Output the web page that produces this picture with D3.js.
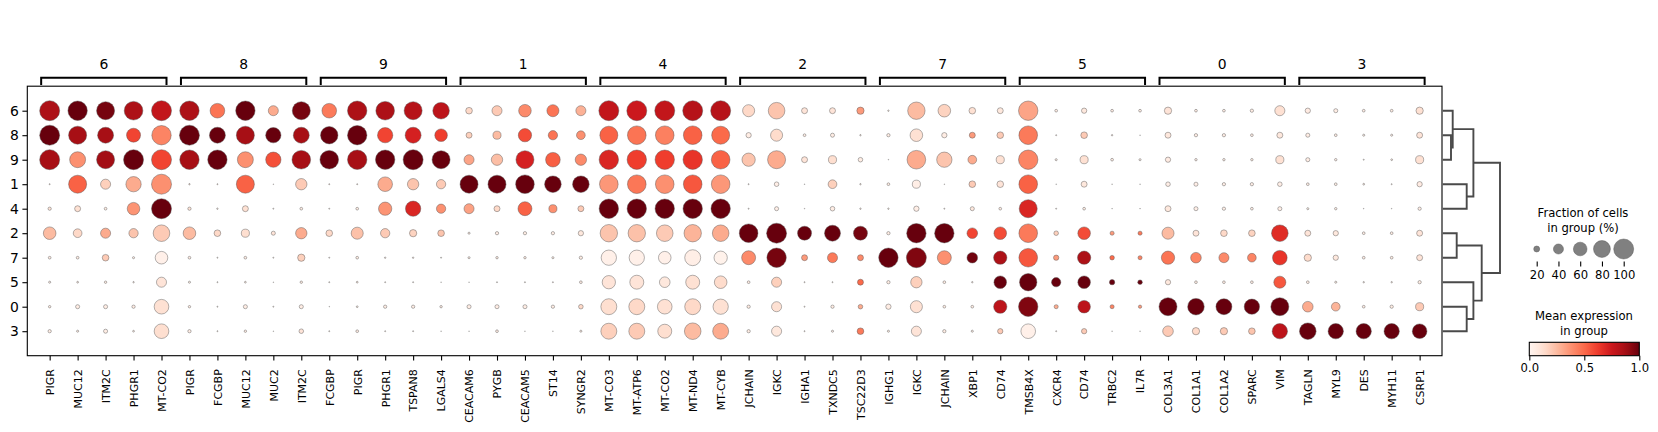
<!DOCTYPE html>
<html><head><meta charset="utf-8">
<script src="https://cdn.jsdelivr.net/npm/d3@7"></script>
<style>body{margin:0;background:#fff;} text{font-family:"DejaVu Sans",sans-serif;fill:#000;}</style>
</head><body>
<svg id="chart" width="1658" height="432"></svg>
<script>
// ---------- DATA ----------
const groups = ["6","8","9","1","4","2","7","5","0","3"];
const groupGenes = [
  ["PIGR","MUC12","ITM2C","PHGR1","MT-CO2"],
  ["PIGR","FCGBP","MUC12","MUC2","ITM2C"],
  ["FCGBP","PIGR","PHGR1","TSPAN8","LGALS4"],
  ["CEACAM6","PYGB","CEACAM5","ST14","SYNGR2"],
  ["MT-CO3","MT-ATP6","MT-CO2","MT-ND4","MT-CYB"],
  ["JCHAIN","IGKC","IGHA1","TXNDC5","TSC22D3"],
  ["IGHG1","IGKC","JCHAIN","XBP1","CD74"],
  ["TMSB4X","CXCR4","CD74","TRBC2","IL7R"],
  ["COL3A1","COL1A1","COL1A2","SPARC","VIM"],
  ["TAGLN","MYL9","DES","MYH11","CSRP1"]
];
// fraction of cells in group (%) per row (group) over the 50 genes
const frac6 = [100,96,87,91,100, 96,66,96,40,87, 66,96,91,87,78, 23,40,54,51,40, 100,100,100,100,100, 51,78,20,20,26, 3,83,54,23,20, 96,7,17,7,7, 26,7,7,9,40, 17,12,7,7,26];
const frac8 = [100,87,74,62,96, 100,74,87,70,74, 83,96,70,74,54, 20,30,58,36,33, 87,91,91,91,87, 17,51,7,12,3, 9,54,17,20,23, 91,2,23,3,1, 20,9,9,7,20, 12,7,5,5,20];
const frac9 = [100,74,87,100,100, 96,96,74,70,91, 91,96,96,100,87, 40,47,87,66,47, 96,96,96,96,91, 58,87,20,30,14, 1,91,70,33,30, 96,5,30,7,5, 17,6,6,6,30, 12,6,2,4,30];
const frac1 = [2,87,40,70,100, 3,2,87,1,47, 2,2,66,47,36, 87,87,91,78,78, 91,91,91,91,91, 2,14,1,33,3, 7,30,1,23,23, 91,1,20,1,1, 14,12,9,9,14, 7,7,4,2,17];
const frac4 = [9,20,7,54,100, 9,3,20,2,7, 2,7,58,70,36, 40,20,62,30,20, 96,96,96,96,96, 2,12,1,14,3, 3,17,2,12,7, 87,2,7,1,1, 20,12,9,7,12, 5,6,1,1,9];
const frac2 = [54,33,40,36,78, 54,23,30,12,47, 23,51,36,26,23, 5,9,9,9,17, 83,83,78,83,78, 91,100,62,74,62, 9,96,96,43,54, 91,14,54,12,12, 51,20,23,23,78, 20,17,7,7,20];
const frac7 = [7,7,23,5,54, 7,2,7,2,26, 2,7,3,3,2, 5,6,6,5,9, 70,70,54,74,58, 62,96,20,40,20, 96,100,62,43,58, 91,17,58,14,12, 58,43,40,33,66, 26,17,7,7,20];
const frac5 = [5,4,6,3,40, 5,2,4,1,6, 2,4,2,2,1, 1,2,2,2,7, 58,62,43,62,54, 7,40,2,2,20, 9,47,7,3,54, 83,36,54,17,14, 17,7,7,7,51, 7,5,3,3,9];
const frac0 = [6,12,12,9,66, 6,2,12,2,12, 1,4,9,9,6, 12,12,12,9,14, 74,74,66,74,70, 9,40,2,9,14, 17,51,7,7,58, 96,12,54,12,9, 87,78,74,70,87, 43,33,7,9,30];
const frac3 = [9,5,12,4,66, 9,2,6,1,14, 2,7,2,2,1, 1,7,1,1,5, 74,74,62,78,74, 9,40,2,5,23, 5,40,9,5,17, 66,2,17,1,1, 43,26,26,23,70, 78,70,70,70,66];
// mean expression in group (scaled 0..1)
const expr6 = [.85,1,.97,.85,.78, .85,.47,1,.3,.97, .45,.85,.85,.82,.8, .15,.2,.4,.47,.28, .78,.75,.78,.82,.82, .15,.22,.1,.1,.35, .05,.25,.17,.12,.08, .32,.05,.08,.05,.05, .1,.05,.05,.05,.12, .06,.05,.05,.05,.12];
const expr8 = [1,.87,.87,.6,.42, 1,1,.87,1,.87, 1,1,.6,.72,.62, .18,.25,.58,.47,.38, .52,.47,.43,.52,.5, .05,.14,.05,.05,.05, .05,.12,.05,.35,.2, .45,.05,.2,.05,.05, .08,.05,.05,.05,.08, .05,.05,.05,.05,.1];
const expr9 = [.87,.38,.88,1,.6, .87,1,.38,.57,.87, 1,.87,1,1,1, .32,.24,.72,.53,.4, .7,.62,.62,.65,.52, .22,.3,.1,.13,.05, .05,.3,.22,.3,.12, .42,.05,.12,.05,.05, .06,.05,.05,.05,.12, .05,.05,.05,.05,.12];
const expr1 = [.1,.52,.18,.3,.38, .1,.1,.52,.1,.2, .1,.1,.3,.22,.2, 1,1,1,1,1, .36,.46,.38,.55,.36, .05,.04,.05,.18,.05, .05,.04,.05,.2,.1, .52,.05,.08,.05,.05, .04,.04,.04,.04,.04, .04,.04,.04,.04,.06];
const expr4 = [.1,.12,.05,.37,1, .1,.05,.12,.05,.05, .05,.05,.37,.7,.38, .33,.15,.52,.38,.2, 1,1,1,1,1, .05,.04,.05,.05,.05, .05,.04,.05,.08,.05, .7,.05,.05,.05,.05, .08,.04,.04,.04,.04, .04,.04,.04,.04,.04];
const expr2 = [.25,.15,.3,.22,.2, .25,.15,.13,.1,.3, .15,.23,.2,.17,.22, .05,.05,.05,.05,.08, .22,.23,.2,.27,.3, 1,1,1,1,.97, .05,1,1,.6,.58, .45,.18,.58,.35,.45, .25,.1,.15,.17,.68, .1,.08,.05,.05,.1];
const expr7 = [.05,.05,.2,.05,.03, .05,.05,.05,.05,.18, .05,.05,.05,.05,.05, .05,.05,.05,.05,.05, .03,.03,.03,.04,.02, .4,.97,.35,.45,.4, 1,.95,.38,.98,.85, .55,.35,.85,.5,.42, .47,.42,.4,.42,.65, .14,.08,.05,.05,.1];
const expr5 = [.05,.05,.05,.05,.1, .05,.05,.05,.05,.05, .05,.05,.05,.05,.05, .05,.05,.05,.05,.05, .1,.1,.08,.12,.14, .05,.18,.05,.05,.5, .05,.18,.05,.05,1, 1,1,1,1,1, .08,.05,.05,.05,.55, .05,.05,.05,.05,.05];
const expr0 = [.05,.05,.05,.05,.12, .05,.05,.05,.05,.05, .05,.05,.05,.05,.05, .05,.05,.05,.05,.15, .13,.15,.12,.15,.12, .05,.12,.05,.05,.3, .05,.12,.05,.05,.8, .95,.3,.8,.42,.35, 1,1,1,1,1, .3,.27,.05,.05,.2];
const expr3 = [.05,.05,.05,.05,.13, .05,.05,.05,.05,.1, .05,.05,.05,.05,.05, .05,.05,.05,.05,.05, .18,.2,.13,.25,.3, .05,.08,.05,.05,.45, .05,.1,.05,.05,.2, .03,.05,.2,.05,.05, .2,.15,.2,.22,.8, 1,1,1,1,1];
const fracRows = [frac6,frac8,frac9,frac1,frac4,frac2,frac7,frac5,frac0,frac3];
const exprRows = [expr6,expr8,expr9,expr1,expr4,expr2,expr7,expr5,expr0,expr3];
// dendrogram (linkage heights read from the tree)
const dendroMerges = [
  {id:"89",   a:"8",  b:"9",   h:8.3},
  {id:"689",  a:"6",  b:"89",  h:10},
  {id:"27",   a:"2",  b:"7",   h:14},
  {id:"14",   a:"1",  b:"4",   h:24},
  {id:"03",   a:"0",  b:"3",   h:24},
  {id:"503",  a:"5",  b:"03",  h:30.7},
  {id:"68914",a:"689",b:"14",  h:30.7},
  {id:"27503",a:"27", b:"503", h:39},
  {id:"root", a:"68914",b:"27503",h:57.3}
];
const sizeLegendTicks = [20,40,60,80,100];
const colorTicks = [0,0.5,1];
const redsStops = ["#fff5f0","#fee0d2","#fcbba1","#fc9272","#fb6a4a","#ef3b2c","#cb181d","#a50f15","#67000d"];

// ---------- CHART ----------
const svg = d3.select("#chart");
const genes = groupGenes.flat();
const nG = genes.length, nR = groups.length;
const frame = {l:27.3, r:1442, t:86.2, b:355.7};
const x = d3.scaleLinear().domain([-0.8, nG-1+0.8]).range([frame.l, frame.r]);
const y = d3.scaleLinear().domain([-1, nR]).range([frame.t, frame.b]);
const rad = d3.scalePow().exponent(0.75).domain([0,100]).range([0,10]);
const color = d3.scaleLinear().domain(d3.range(9).map(i=>i/8)).range(redsStops).clamp(true);

// dots
const cells = [];
fracRows.forEach((row,i)=>row.forEach((f,j)=>cells.push({i,j,f,e:exprRows[i][j]})));
svg.append("g").selectAll("circle").data(cells).join("circle")
  .attr("cx",d=>x(d.j)).attr("cy",d=>y(d.i)).attr("r",d=>rad(d.f))
  .attr("fill",d=>color(d.e)).attr("stroke","#555").attr("stroke-width",0.45);

// frame
svg.append("rect").attr("x",frame.l).attr("y",frame.t).attr("width",frame.r-frame.l).attr("height",frame.b-frame.t)
  .attr("fill","none").attr("stroke","#000").attr("stroke-width",1.1);

// x axis
const xAxis = d3.axisBottom(x).tickValues(d3.range(nG)).tickSize(4.9).tickPadding(4).tickFormat(i=>genes[i]);
const gx = svg.append("g").attr("transform",`translate(0,${frame.b})`).call(xAxis);
gx.select(".domain").remove();
gx.selectAll(".tick line").attr("stroke","#000").attr("stroke-width",1.1);
gx.selectAll(".tick text").attr("font-size","11px").attr("font-family","DejaVu Sans")
  .attr("transform","rotate(-90)").attr("text-anchor","end").attr("dy","0.35em")
  .attr("x",-13.5).attr("y",0);

// y axis
const yAxis = d3.axisLeft(y).tickValues(d3.range(nR)).tickSize(4.9).tickPadding(3.5).tickFormat(i=>groups[i]);
const gy = svg.append("g").attr("transform",`translate(${frame.l},0)`).call(yAxis);
gy.select(".domain").remove();
gy.selectAll(".tick line").attr("stroke","#000").attr("stroke-width",1.1);
gy.selectAll(".tick text").attr("font-size","13.9px").attr("font-family","DejaVu Sans");

// group brackets
const gb = svg.append("g");
let start = 0;
groupGenes.forEach((gg,k)=>{
  const l = x(start) - 8.5, r = x(start+gg.length-1) + 5;
  gb.append("path").attr("d",`M${l},85 V77.7 H${r} V85`).attr("fill","none").attr("stroke","#000").attr("stroke-width",2);
  gb.append("text").attr("x",(l+r)/2).attr("y",64).attr("dy","0.35em").attr("text-anchor","middle")
    .attr("font-size","13.9px").text(groups[k]);
  start += gg.length;
});

// dendrogram
const dx = d3.scaleLinear().domain([0, d3.max(dendroMerges,d=>d.h)]).range([1442.7, 1500]);
const pos = {};
groups.forEach((g,i)=>pos[g]={y:y(i),h:0});
const dg = svg.append("g").attr("fill","none").attr("stroke","#4a4a4a").attr("stroke-width",1.9);
dendroMerges.forEach(m=>{
  const A = pos[m.a], B = pos[m.b];
  dg.append("path").attr("d",`M${dx(A.h)},${A.y} H${dx(m.h)} V${B.y} H${dx(B.h)}`);
  pos[m.id] = {y:(A.y+B.y)/2, h:m.h};
});

// size legend
const lg = svg.append("g");
const lcx = 1583;
lg.append("text").attr("x",lcx).attr("y",212.7).attr("dy","0.35em").attr("text-anchor","middle").attr("font-size","11.6px").text("Fraction of cells");
lg.append("text").attr("x",lcx).attr("y",228).attr("dy","0.35em").attr("text-anchor","middle").attr("font-size","11.6px").text("in group (%)");
const sx = d3.scaleLinear().domain([20,100]).range([1536.7,1623.7]);
lg.selectAll("circle").data(sizeLegendTicks).join("circle")
  .attr("cx",d=>sx(d)).attr("cy",249).attr("r",d=>rad(d))
  .attr("fill","#808080").attr("stroke","#555").attr("stroke-width",0.45);
const sAxis = d3.axisBottom(sx).tickValues(sizeLegendTicks).tickSize(4.9).tickPadding(4);
const gs = lg.append("g").attr("transform","translate(0,261.5)").call(sAxis);
gs.select(".domain").remove();
gs.selectAll(".tick line").attr("stroke","#000").attr("stroke-width",1.1);
gs.selectAll(".tick text").attr("font-size","11.6px").attr("font-family","DejaVu Sans");

// color legend
const cg = svg.append("g");
cg.append("text").attr("x",1584).attr("y",315.7).attr("dy","0.35em").attr("text-anchor","middle").attr("font-size","11.6px").text("Mean expression");
cg.append("text").attr("x",1584).attr("y",330.7).attr("dy","0.35em").attr("text-anchor","middle").attr("font-size","11.6px").text("in group");
const defs = svg.append("defs");
const grad = defs.append("linearGradient").attr("id","reds");
d3.range(0,1.0001,0.05).forEach(t=>grad.append("stop").attr("offset",t).attr("stop-color",color(t)));
const cx = d3.scaleLinear().domain([0,1]).range([1529.3,1639.3]);
cg.append("rect").attr("x",cx(0)).attr("y",342.3).attr("width",cx(1)-cx(0)).attr("height",13.4)
  .attr("fill","url(#reds)").attr("stroke","#000").attr("stroke-width",1.1);
const cAxis = d3.axisBottom(cx).tickValues(colorTicks).tickSize(4.9).tickPadding(3.5).tickFormat(d3.format(".1f"));
const gc = cg.append("g").attr("transform","translate(0,355.7)").call(cAxis);
gc.select(".domain").remove();
gc.selectAll(".tick line").attr("stroke","#000").attr("stroke-width",1.1);
gc.selectAll(".tick text").attr("font-size","11.6px").attr("font-family","DejaVu Sans");
</script>
</body></html>
